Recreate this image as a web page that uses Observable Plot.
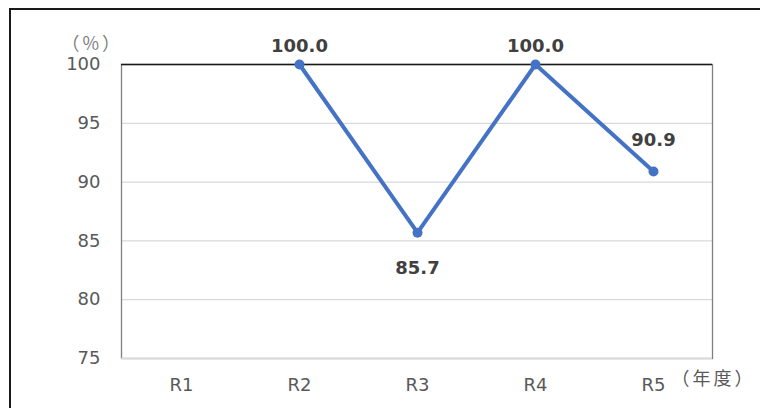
<!DOCTYPE html>
<html lang="ja">
<head>
<meta charset="utf-8">
<script src="https://cdn.jsdelivr.net/npm/d3@7"></script>
<script src="https://cdn.jsdelivr.net/npm/@observablehq/plot@0.6"></script>
<style>
  html, body { margin: 0; padding: 0; background: #fff; }
  #wrap { position: relative; width: 760px; height: 408px; overflow: hidden; }
  #border { position: absolute; left: 9px; top: 8px; width: 900px; height: 600px;
            border-left: 2px solid #1a1a1a; border-top: 2px solid #1a1a1a; pointer-events: none; }
  svg { font-family: "DejaVu Sans", Verdana, sans-serif; }
  .unit text { letter-spacing: 3px; }
</style>
</head>
<body>
<div id="wrap"><div id="border"></div><div id="chart"></div></div>
<script>
const categories = ["R1", "R2", "R3", "R4", "R5"];
const values = [null, 100.0, 85.7, 100.0, 90.9];
const yTicks = [75, 80, 85, 90, 95, 100];
const yUnit = "（%）";
const xUnit = "（年度）";
// label placement (style): vertical offset per category
const labelDy = {R2: -18, R3: 36, R4: -18, R5: -31};

const data = categories.map((c, i) => ({cat: c, v: values[i]}));
const pts = data.filter(d => d.v != null);
const cjk = '"Noto Sans CJK JP", "Noto Sans", sans-serif';

const chart = Plot.plot({
  width: 760,
  height: 408,
  marginLeft: 121,
  marginRight: 48,
  marginTop: 64,
  marginBottom: 50,
  style: {fontFamily: '"DejaVu Sans", Verdana, sans-serif', fontSize: "18px", color: "#595959", background: "transparent"},
  x: {type: "point", domain: categories, padding: 0.5, label: null, tickSize: 0, tickPadding: 20},
  y: {domain: [75, 100], ticks: yTicks, label: null, tickSize: 0, tickPadding: 21},
  marks: [
    Plot.ruleY([80, 85, 90, 95], {stroke: "#d9d9d9", strokeWidth: 1.3}),
    Plot.frame({stroke: "#7f7f7f", strokeWidth: 1.3}),
    Plot.ruleY([75], {stroke: "#d9d9d9", strokeWidth: 1.5}),
    Plot.ruleY([100], {stroke: "#1a1a1a", strokeWidth: 1.3}),
    Plot.line(pts, {x: "cat", y: "v", stroke: "#4472C4", strokeWidth: 4, strokeLinejoin: "round"}),
    Plot.dot(pts, {x: "cat", y: "v", r: 5, fill: "#4472C4", stroke: "none"}),
    ...pts.map(d => Plot.text([d], {x: "cat", y: "v", text: d => d.v.toFixed(1),
      dy: labelDy[d.cat], fill: "#404040", fontWeight: "bold", fontSize: 18})),
    Plot.text([yUnit], {frameAnchor: "top-left", dx: -60, dy: -27, fill: "#7f7f7f", fontSize: 18, fontFamily: cjk, textAnchor: "start", className: "unit"}),
    Plot.text([xUnit], {frameAnchor: "bottom-right", dx: 43, dy: 26, fill: "#595959", fontSize: 18, fontFamily: cjk, textAnchor: "end", className: "unit"})
  ]
});
document.getElementById("chart").appendChild(chart);
</script>
</body>
</html>
